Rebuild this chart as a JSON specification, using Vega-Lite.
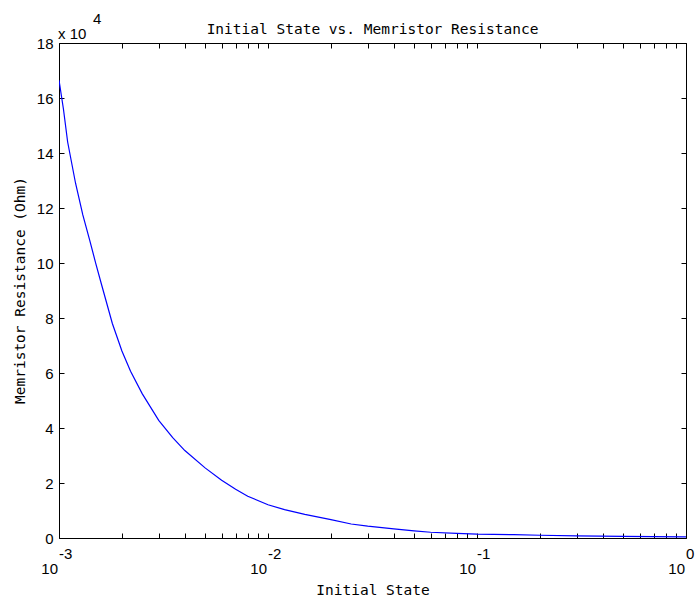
{
  "$schema": "https://vega.github.io/schema/vega-lite/v6.json",
  "autosize": "none",
  "padding": {"left": 59, "top": 43, "right": 13, "bottom": 63},
  "width": 627,
  "height": 495,
  "background": "white",
  "title": {
    "text": "Initial State vs. Memristor Resistance",
    "font": "DejaVu Sans Mono",
    "fontSize": 14.5,
    "fontWeight": "normal",
    "color": "black",
    "baseline": "bottom",
    "offset": -39
  },
  "datasets": {
    "curve": [
      {"state": 0.001, "resistance": 166500},
      {"state": 0.00105, "resistance": 156000},
      {"state": 0.0011, "resistance": 144000},
      {"state": 0.0012, "resistance": 129000},
      {"state": 0.0013, "resistance": 117500},
      {"state": 0.0014, "resistance": 108500},
      {"state": 0.0015, "resistance": 99800},
      {"state": 0.0016, "resistance": 92000},
      {"state": 0.0018, "resistance": 78000},
      {"state": 0.002, "resistance": 68000},
      {"state": 0.0022, "resistance": 60600},
      {"state": 0.0025, "resistance": 52500},
      {"state": 0.003, "resistance": 42800},
      {"state": 0.0035, "resistance": 36500},
      {"state": 0.004, "resistance": 31800},
      {"state": 0.005, "resistance": 25500},
      {"state": 0.006, "resistance": 21000},
      {"state": 0.007, "resistance": 17700},
      {"state": 0.008, "resistance": 15200},
      {"state": 0.01, "resistance": 12100},
      {"state": 0.012, "resistance": 10300},
      {"state": 0.015, "resistance": 8600},
      {"state": 0.02, "resistance": 6700},
      {"state": 0.025, "resistance": 5100},
      {"state": 0.03, "resistance": 4300},
      {"state": 0.04, "resistance": 3300},
      {"state": 0.05, "resistance": 2600},
      {"state": 0.06, "resistance": 2100},
      {"state": 0.08, "resistance": 1700},
      {"state": 0.1, "resistance": 1400},
      {"state": 0.15, "resistance": 1200},
      {"state": 0.2, "resistance": 1000},
      {"state": 0.3, "resistance": 800},
      {"state": 0.5, "resistance": 600},
      {"state": 0.7, "resistance": 500},
      {"state": 1, "resistance": 400}
    ],
    "decades": [
      {"state": 0.001, "exponent": "-3"},
      {"state": 0.01, "exponent": "-2"},
      {"state": 0.1, "exponent": "-1"},
      {"state": 1, "exponent": "0"}
    ],
    "multiplier": [
      {"state": 0.001, "resistance": 180000, "base": "x 10", "power": "4"}
    ]
  },
  "config": {
    "view": {"stroke": null},
    "axis": {
      "grid": false,
      "domainColor": "black",
      "domainWidth": 1,
      "tickColor": "black",
      "tickWidth": 1,
      "tickSize": -5,
      "labelFont": "Liberation Sans",
      "labelFontSize": 15,
      "labelColor": "black",
      "titleFont": "DejaVu Sans Mono",
      "titleFontSize": 14.5,
      "titleFontWeight": "normal",
      "titleColor": "black"
    },
    "text": {"font": "Liberation Sans", "fontSize": 15, "color": "black"}
  },
  "resolve": {"axis": {"x": "independent", "y": "independent"}},
  "layer": [
    {
      "data": {"name": "curve"},
      "mark": {"type": "line", "color": "#0000ff", "strokeWidth": 1.2, "clip": true},
      "encoding": {
        "x": {
          "field": "state",
          "type": "quantitative",
          "scale": {"type": "log", "domain": [0.001, 1], "nice": false},
          "axis": {
            "orient": "bottom",
            "values": [0.001, 0.002, 0.003, 0.004, 0.005, 0.006, 0.007, 0.008, 0.009, 0.01, 0.02, 0.03, 0.04, 0.05, 0.06, 0.07, 0.08, 0.09, 0.1, 0.2, 0.3, 0.4, 0.5, 0.6, 0.7, 0.8, 0.9, 1],
            "labels": false,
            "title": "Initial State",
            "titleY": 45,
            "titleBaseline": "top"
          }
        },
        "y": {
          "field": "resistance",
          "type": "quantitative",
          "scale": {"domain": [0, 180000], "nice": false, "zero": true},
          "axis": {
            "orient": "left",
            "values": [0, 20000, 40000, 60000, 80000, 100000, 120000, 140000, 160000, 180000],
            "labelExpr": "format(datum.value / 10000, 'd')",
            "labelPadding": 11,
            "title": "Memristor Resistance (Ohm)",
            "titleX": -39,
            "titleY": 247,
            "titleAngle": -90,
            "titleBaseline": "middle",
            "titleAlign": "center"
          }
        }
      }
    },
    {
      "data": {"name": "curve"},
      "mark": {"type": "line", "opacity": 0},
      "encoding": {
        "x": {
          "field": "state",
          "type": "quantitative",
          "scale": {"type": "log", "domain": [0.001, 1], "nice": false},
          "axis": {
            "orient": "top",
            "values": [0.001, 0.002, 0.003, 0.004, 0.005, 0.006, 0.007, 0.008, 0.009, 0.01, 0.02, 0.03, 0.04, 0.05, 0.06, 0.07, 0.08, 0.09, 0.1, 0.2, 0.3, 0.4, 0.5, 0.6, 0.7, 0.8, 0.9, 1],
            "labels": false,
            "title": null
          }
        },
        "y": {
          "field": "resistance",
          "type": "quantitative",
          "scale": {"domain": [0, 180000], "nice": false},
          "axis": {
            "orient": "right",
            "values": [0, 20000, 40000, 60000, 80000, 100000, 120000, 140000, 160000, 180000],
            "labels": false,
            "title": null
          }
        }
      }
    },
    {
      "data": {"name": "decades"},
      "mark": {"type": "text", "align": "right", "baseline": "alphabetic", "dx": -1, "dy": 36},
      "encoding": {
        "x": {"field": "state", "type": "quantitative", "axis": null},
        "y": {"datum": 0, "type": "quantitative", "axis": null},
        "text": {"value": "10"}
      }
    },
    {
      "data": {"name": "decades"},
      "mark": {"type": "text", "align": "left", "baseline": "alphabetic", "dx": 0, "dy": 21},
      "encoding": {
        "x": {"field": "state", "type": "quantitative", "axis": null},
        "y": {"datum": 0, "type": "quantitative", "axis": null},
        "text": {"field": "exponent"}
      }
    },
    {
      "data": {"name": "multiplier"},
      "mark": {"type": "text", "align": "left", "baseline": "alphabetic", "dx": -1, "dy": -4},
      "encoding": {
        "x": {"field": "state", "type": "quantitative", "axis": null},
        "y": {"field": "resistance", "type": "quantitative", "axis": null},
        "text": {"field": "base"}
      }
    },
    {
      "data": {"name": "multiplier"},
      "mark": {"type": "text", "align": "left", "baseline": "alphabetic", "dx": 34, "dy": -19},
      "encoding": {
        "x": {"field": "state", "type": "quantitative", "axis": null},
        "y": {"field": "resistance", "type": "quantitative", "axis": null},
        "text": {"field": "power"}
      }
    }
  ]
}
